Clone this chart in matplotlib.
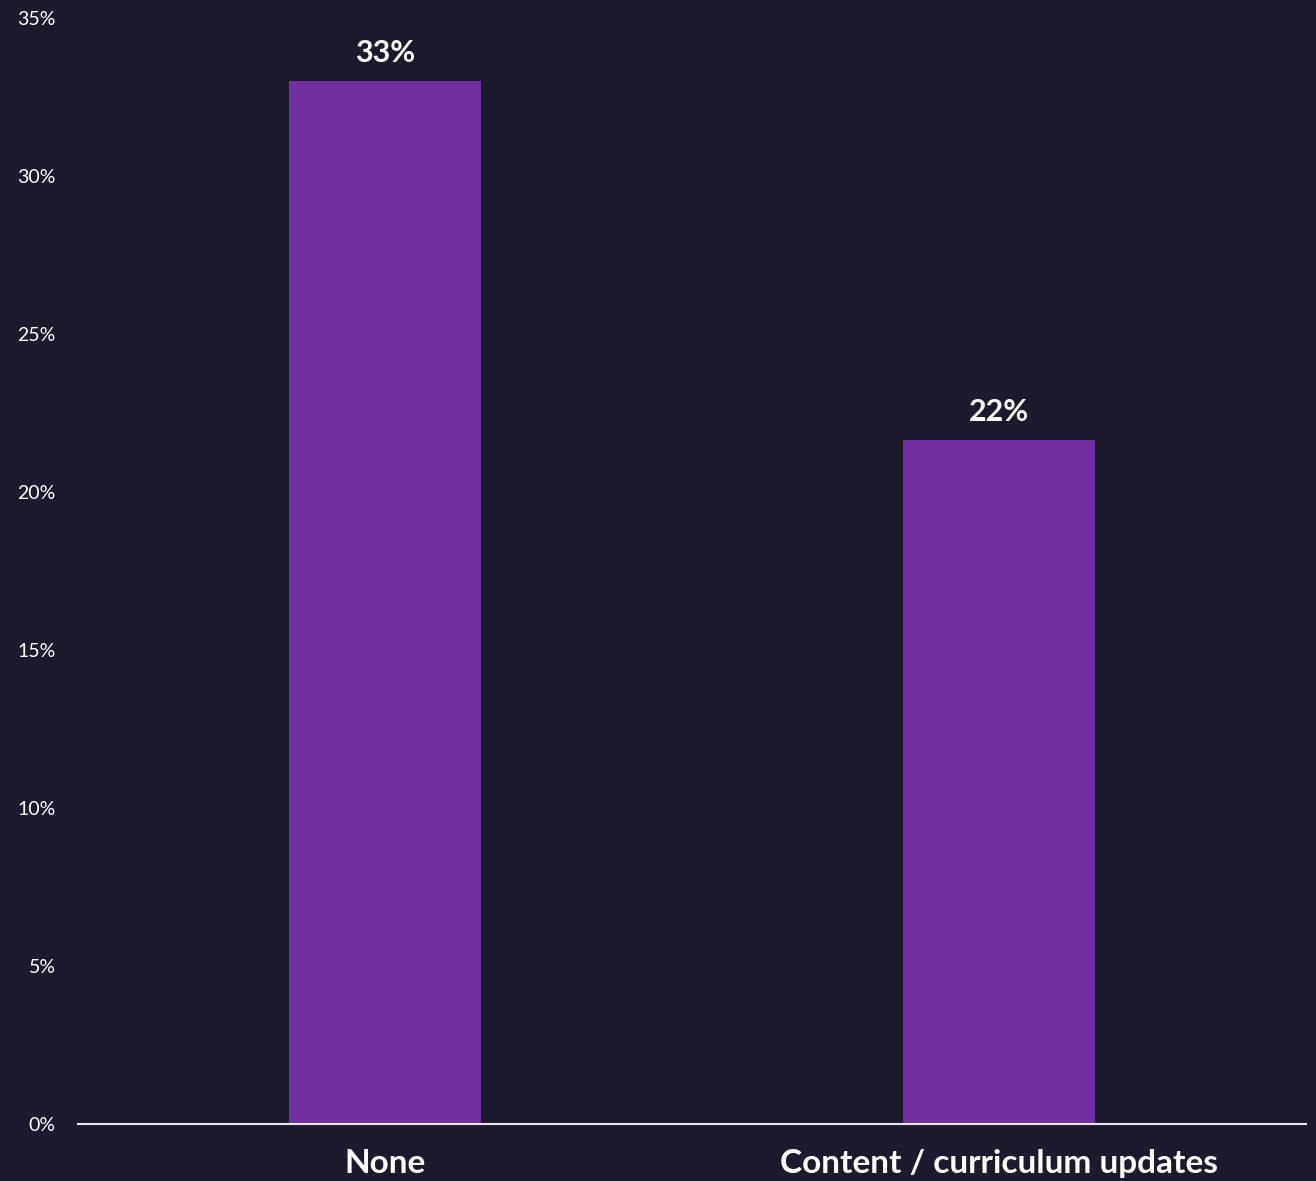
import matplotlib.pyplot as plt
from matplotlib.ticker import PercentFormatter

# Data
categories = ['None', 'Content / curriculum updates']
values = [33.0, 21.65]
value_labels = ['33%', '22%']
y_ticks = [0, 5, 10, 15, 20, 25, 30, 35]

bg = '#1c1b2e'
bar_color = '#7030a0'

plt.rcParams['font.family'] = ['Lato', 'DejaVu Sans']

fig = plt.figure(figsize=(13.16, 11.81), dpi=100, facecolor=bg)
ax = fig.add_axes([78 / 1316, 57 / 1181, 1228 / 1316, 1106 / 1181])
ax.set_facecolor(bg)

x = range(len(categories))
bars = ax.bar(x, values, width=0.314, color=bar_color, zorder=2)

for b, lab in zip(bars, value_labels):
    ax.annotate(lab, (b.get_x() + b.get_width() / 2, b.get_height()),
                xytext=(0, 10), textcoords='offset points',
                ha='center', va='bottom', color='white',
                fontsize=22, fontweight='bold')

ax.set_xlim(-0.5, 1.5)
ax.set_ylim(0, 35)
ax.set_yticks(y_ticks)
ax.yaxis.set_major_formatter(PercentFormatter(decimals=0))
ax.set_xticks(list(x))
ax.set_xticklabels(categories, fontsize=24, fontweight='bold', color='white')
ax.tick_params(axis='y', length=0, pad=16, labelsize=14, labelcolor='white')
ax.tick_params(axis='x', length=0, pad=18)

for side in ['top', 'right', 'left']:
    ax.spines[side].set_visible(False)
ax.spines['bottom'].set_color('#e6e6e6')
ax.spines['bottom'].set_linewidth(1.5)
ax.spines['bottom'].set_zorder(3)

fig.savefig('out.png', dpi=100, facecolor=bg)
